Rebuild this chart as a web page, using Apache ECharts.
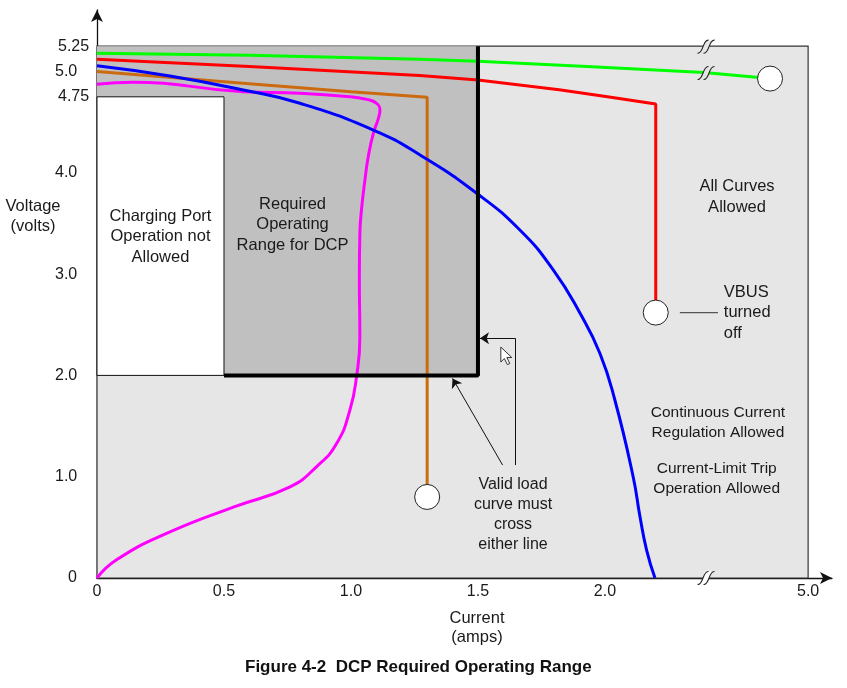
<!DOCTYPE html>
<html><head><meta charset="utf-8">
<script src="https://cdn.jsdelivr.net/npm/echarts@6/dist/echarts.min.js"></script>
<style>html,body{margin:0;padding:0;background:#fff}#c{width:847px;height:688px}</style>
</head><body><div id="c"></div>
<script>
// Axis units: beyond the break (x≈2.4) the current axis is compressed; axis value 2.8 is labelled 5.0 A.
const xTickValues = [0, 0.5, 1.0, 1.5, 2.0, 2.8];
const xTickLabels = ['0', '0.5', '1.0', '1.5', '2.0', '5.0'];
const xTickMarks = [0.5, 1.0];
const yTickValues = [0, 1.0, 2.0, 3.0, 4.0, 4.75, 5.0, 5.25];
const yTickLabels = ['0', '1.0', '2.0', '3.0', '4.0', '4.75', '5.0', '5.25'];
const yTickMarks = [1.0, 2.0, 3.0, 4.0, 5.0];

// Regions [x0, y0, x1, y1]
const allowedBox = [0, 0, 2.8, 5.25];
const requiredBox = [0, 2.0, 1.5, 5.25];
const notAllowedBox = [0, 2.0, 0.5, 4.75];
const boundaryX = [0.5, 1.5, 1.5];
const boundaryY = [2.0, 2.0, 5.25];

// Load curves
const greenX = [0, 0.60, 1.27, 1.50, 1.93, 2.39, 2.65];
const greenY = [5.18, 5.16, 5.12, 5.10, 5.05, 4.99, 4.93];
const redX = [0, 0.60, 1.27, 1.50, 1.82, 2.01, 2.20, 2.20];
const redY = [5.12, 5.05, 4.96, 4.915, 4.82, 4.75, 4.68, 2.62];
const orangeX = [0, 0.60, 1.00, 1.30, 1.30];
const orangeY = [5.00, 4.88, 4.80, 4.745, 0.80];
const blueX = [0, 0.287, 0.576, 0.799, 1.088, 1.272, 1.495, 1.665, 1.797, 1.902, 1.980, 2.039, 2.111, 2.138, 2.164, 2.197];
const blueY = [5.057, 4.956, 4.817, 4.686, 4.422, 4.176, 3.798, 3.435, 3.040, 2.613, 2.218, 1.757, 1.00, 0.605, 0.276, 0];
const magentaX = [0, 0.143, 0.576, 0.799, 0.996, 1.062, 1.101, 1.114, 1.108, 1.088, 1.068, 1.055, 1.042, 1.035, 1.033, 1.035, 1.022, 0.996, 0.944, 0.865, 0.760, 0.537, 0.274, 0.077, 0];
const magentaY = [4.874, 4.893, 4.80, 4.785, 4.751, 4.725, 4.686, 4.62, 4.538, 4.39, 4.159, 3.929, 3.65, 3.40, 2.94, 2.38, 1.99, 1.66, 1.33, 1.10, 0.90, 0.70, 0.44, 0.18, 0];
const endX = [2.65, 2.20, 1.30];
const endY = [4.93, 2.62, 0.80];
const breakX = 2.4;
const breakY = [5.25, 4.99, 0];

const FONT = 'Liberation Sans, Arial, sans-serif';
const TXT = '#1a1a1a';
const zip = (xs, ys) => xs.map((x, i) => [x, ys[i]]);
const box = (b) => [{coord: [b[0], b[1]]}, {coord: [b[2], b[3]]}];

const chart = echarts.init(document.getElementById('c'), null, {renderer: 'canvas'});

const curve = (name, xs, ys, color, smooth, z) => ({
  name, type: 'line', data: zip(xs, ys), smooth: smooth, showSymbol: false, symbol: 'none',
  lineStyle: {color, width: 3}, z: z || 5, animation: false, silent: true
});

chart.setOption({
  animation: false,
  title: {
    text: 'Figure 4-2  DCP Required Operating Range',
    left: 240, top: 654,
    textStyle: {fontFamily: FONT, fontSize: 17, fontWeight: 'bold', color: '#111'}
  },
  grid: {left: 97, right: 15, top: 10, bottom: 110, containLabel: false},
  xAxis: {
    type: 'value', min: 0, max: 2.894,
    splitLine: {show: false},
    axisLine: {show: true, lineStyle: {color: '#111', width: 1.3}, symbol: ['none', 'arrow'], symbolSize: [9, 12]},
    axisTick: {show: true, inside: true, length: 12, customValues: xTickMarks, lineStyle: {color: '#111', width: 1}},
    axisLabel: {
      customValues: xTickValues, margin: 6, color: TXT, fontFamily: FONT, fontSize: 16,
      formatter: (v) => { const i = xTickValues.findIndex(t => Math.abs(t - v) < 1e-6); return i >= 0 ? xTickLabels[i] : ''; }
    }
  },
  yAxis: {
    type: 'value', min: 0, max: 5.607,
    splitLine: {show: false},
    axisLine: {show: true, lineStyle: {color: '#111', width: 1.3}, symbol: ['none', 'arrow'], symbolSize: [9, 12]},
    axisTick: {show: true, inside: true, length: 13, customValues: yTickMarks, lineStyle: {color: '#333', width: 1}},
    axisLabel: {
      customValues: yTickValues, margin: 42, align: 'left', color: TXT, fontFamily: FONT, fontSize: 16,
      formatter: (v) => {
        const i = yTickValues.findIndex(t => Math.abs(t - v) < 1e-6);
        if (i < 0) return '';
        const s = yTickLabels[i];
        if (s === '0') return '{z|' + s + '}';
        if (s.length === 4) return '{w|' + s + '}';
        return s;
      },
      rich: {
        z: {padding: [0, 0, 0, 13], fontFamily: FONT, fontSize: 16, color: TXT},
        w: {padding: [0, 0, 0, 3], fontFamily: FONT, fontSize: 16, color: TXT}
      }
    }
  },
  series: [
    {type: 'line', data: [], z: 1, silent: true,
      markArea: {silent: true, itemStyle: {color: '#e6e6e6', borderColor: '#333', borderWidth: 1.2}, data: [box(allowedBox)]}},
    {type: 'line', data: [], z: 2, silent: true,
      markArea: {silent: true, itemStyle: {color: '#c0c0c0', borderWidth: 0}, data: [box(requiredBox)]}},
    {type: 'line', data: [], z: 3, silent: true,
      markArea: {silent: true, itemStyle: {color: '#ffffff', borderColor: '#111', borderWidth: 1}, data: [box(notAllowedBox)]}},
    curve('green', greenX, greenY, '#00ff00', false),
    curve('red', redX, redY, '#ff0000', false),
    curve('orange', orangeX, orangeY, '#cc6a10', false),
    curve('magenta', magentaX, magentaY, '#ff00ff', true),
    curve('blue', blueX, blueY, '#0000ff', true),
    {type: 'line', data: zip(boundaryX, boundaryY), symbol: 'none', lineStyle: {color: '#000', width: 4}, z: 6, silent: true},
    {type: 'scatter', data: zip(endX, endY), symbol: 'circle', symbolSize: 25, z: 8, silent: true,
      itemStyle: {color: '#fff', borderColor: '#222', borderWidth: 1, opacity: 1}},
    {type: 'line', data: [], z: 9, silent: true,
      markLine: {
        silent: true, animation: false, label: {show: false},
        lineStyle: {color: '#111', width: 1, type: 'solid'},
        symbolSize: 9,
        data: [
          [{coord: [1.597, 1.115], symbol: 'none'}, {coord: [1.40, 1.97], symbol: 'arrow'}],
          [{coord: [1.647, 1.115], symbol: 'none'}, {coord: [1.647, 2.366], symbol: 'none'}],
          [{coord: [1.647, 2.366], symbol: 'none'}, {coord: [1.508, 2.366], symbol: 'arrow'}]
        ]
      }}
  ]
});

const P = (x, y) => chart.convertToPixel({gridIndex: 0}, [x, y]);
const label = (x, y, text, opts) => {
  const p = P(x, y);
  return {type: 'text', x: p[0], y: p[1], z: 20, style: Object.assign({
    text, fill: TXT, font: '16.5px ' + FONT, align: 'center', verticalAlign: 'middle', lineHeight: 20.5
  }, opts || {})};
};
const g = [];
g.push(label(0.25, 3.37, 'Charging Port\nOperation not\nAllowed'));
g.push(label(0.77, 3.49, 'Required\nOperating\nRange for DCP'));
g.push(label(2.52, 3.76, 'All Curves\nAllowed'));
g.push(label(2.468, 2.62, 'VBUS\nturned\noff', {align: 'left'}));
g.push(label(2.445, 1.53, 'Continuous Current\nRegulation Allowed', {font: '15.5px ' + FONT, lineHeight: 20}));
g.push(label(2.44, 0.977, 'Current-Limit Trip\nOperation Allowed', {font: '15.5px ' + FONT, lineHeight: 20}));
g.push(label(1.638, 0.622, 'Valid load\ncurve must\ncross\neither line', {font: '16px ' + FONT, lineHeight: 20}));
// connector for VBUS note
{
  const a = P(2.295, 2.62), b = P(2.445, 2.62);
  g.push({type: 'line', z: 20, shape: {x1: a[0], y1: a[1], x2: b[0], y2: b[1]}, style: {stroke: '#555', lineWidth: 1.2}});
}
// axis names
g.push({type: 'text', x: 33, y: 216, z: 20, style: {text: 'Voltage\n(volts)', fill: TXT, font: '16.5px ' + FONT, align: 'center', verticalAlign: 'middle', lineHeight: 20}});
g.push({type: 'text', x: 477, y: 628, z: 20, style: {text: 'Current\n(amps)', fill: TXT, font: '16.5px ' + FONT, align: 'center', verticalAlign: 'middle', lineHeight: 19.5}});
// mouse cursor
{
  const c = P(1.59, 2.28);
  g.push({type: 'polygon', x: c[0], y: c[1], z: 21,
    shape: {points: [[0, 0], [0, 15], [3.5, 11.5], [6.5, 17.5], [9, 16.5], [6, 10.5], [11, 10.5]]},
    style: {fill: '#fff', stroke: '#333', lineWidth: 1}});
}
// axis break marks
breakY.forEach((by, i) => {
  const c = P(breakX, by);
  const fill = i === 2 ? '#fff' : '#e6e6e6';
  const s = (dx) => ({type: 'bezierCurve', z: 23,
    shape: {x1: -9 + dx, y1: 6.5, cpx1: -3 + dx, cpy1: 7.5, cpx2: -4 + dx, cpy2: -7.5, x2: 2 + dx, y2: -6.5},
    style: {fill: null, stroke: '#222', lineWidth: 1.1}});
  g.push({type: 'group', x: c[0], y: c[1] + (i === 2 ? 0 : 0.5), z: 22, children: [
    {type: 'polygon', z: 22, shape: {points: [[-6, 6.5], [-1.5, -6.5], [5, -6.5], [0.5, 6.5]]}, style: {fill: fill}},
    s(0), s(6)
  ]});
});
chart.setOption({graphic: g});
</script>
</body></html>
